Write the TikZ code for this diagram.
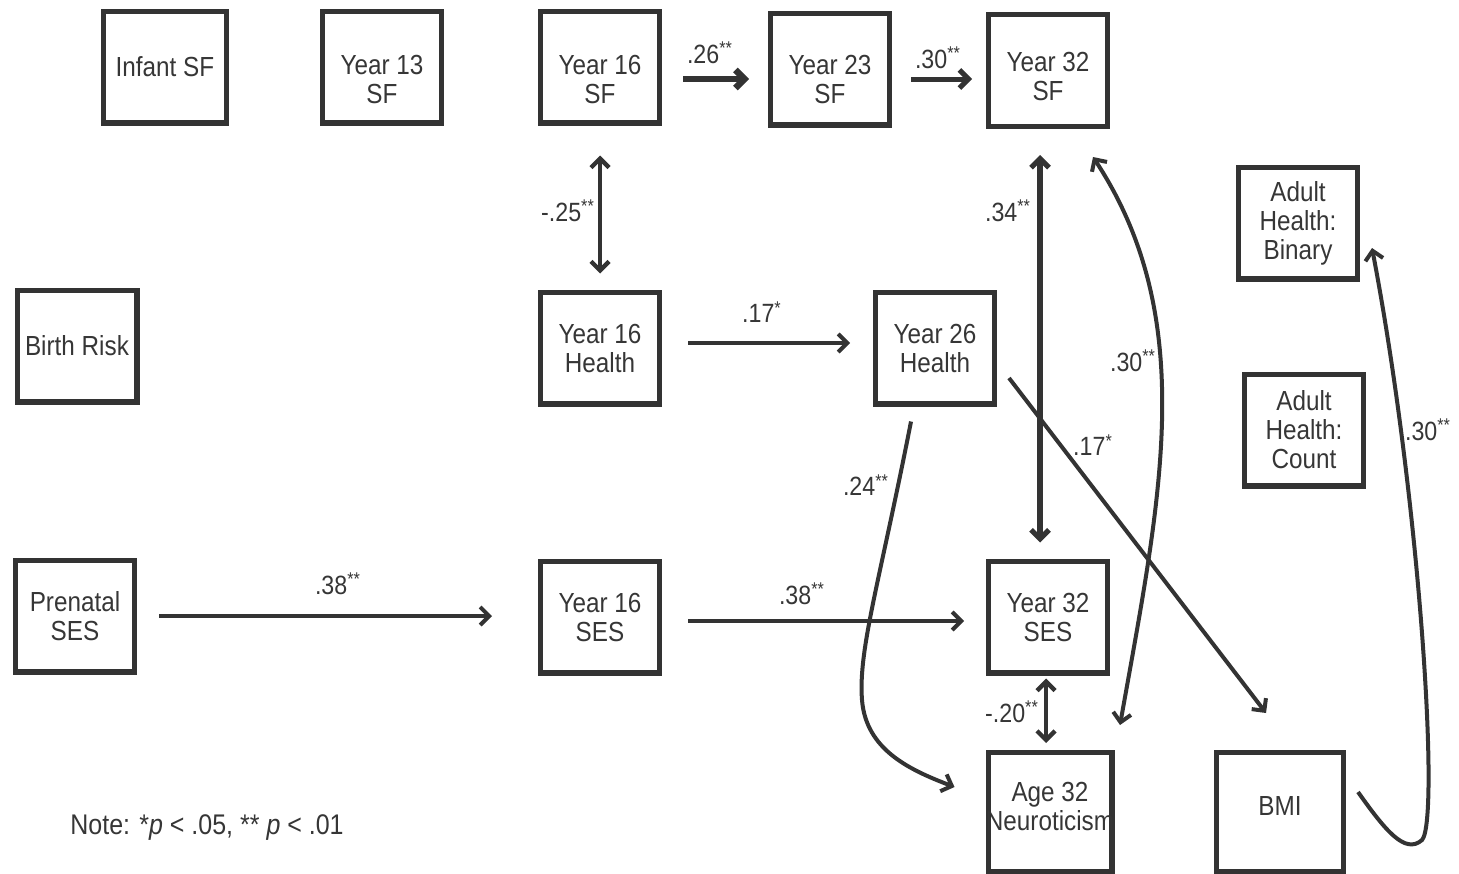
\documentclass[tikz,border=0pt]{standalone}
\usepackage{fontspec}
\newfontfamily\dfont[FakeStretch=0.88]{Liberation Sans}
\usetikzlibrary{arrows.meta,calc}
\definecolor{ink}{HTML}{333333}
\definecolor{txt}{HTML}{363636}
\begin{document}
\begin{tikzpicture}[x=0.5pt,y=-0.5pt,
  box/.style={draw=ink,line width=2.6pt,minimum width=59.4pt,minimum height=55.9pt,inner sep=0pt,align=center,text=txt,font={\dfont\fontsize{13.8}{14.5}\selectfont}},
  boxtxt/.style={inner sep=0pt,align=center,text=txt,font={\dfont\fontsize{13.8}{14.5}\selectfont}},
  lab/.style={text=txt,inner sep=0pt,font={\dfont\fontsize{13.2}{14}\selectfont}},
  tip/.tip={Straight Barb[length=4.5pt,width=9pt]},
  conn/.style={draw=ink,line width=2pt,-tip},
  both/.style={draw=ink,line width=2pt,tip-tip},
]
\useasboundingbox (0,0) rectangle (1459,873);

% nodes
\node[box,minimum width=61.4pt] (infant) at (165,67) {Infant SF};
\node[box,label={[boxtxt,yshift=-6pt]center:{Year 13\\SF}}] (y13sf) at (382,67) {};
\node[box,label={[boxtxt,yshift=-6pt]center:{Year 16\\SF}}] (y16sf) at (600,67) {};
\node[box,label={[boxtxt,yshift=-5pt]center:{Year 23\\SF}}] (y23sf) at (830,69) {};
\node[box,label={[boxtxt,yshift=-3pt]center:{Year 32\\SF}}] (y32sf) at (1048,70.5) {};
\node[box,minimum width=59.9pt] (birth) at (77,346) {Birth Risk};
\node[box] (y16h) at (600,348) {Year 16\\Health};
\node[box] (y26h) at (935,348) {Year 26\\Health};
\node[box] (bin) at (1298,223) {Adult\\Health:\\Binary};
\node[box] (cnt) at (1304,430) {Adult\\Health:\\Count};
\node[box] (pre) at (75,616) {Prenatal\\SES};
\node[box] (y16ses) at (600,617) {Year 16\\SES};
\node[box] (y32ses) at (1048,617) {Year 32\\SES};
\node[box,minimum width=61.9pt,minimum height=59.4pt,label={[boxtxt,yshift=3pt]center:{Age 32\\\makebox[0pt]{Neuroticism}}}] (neuro) at (1050,812) {};
\node[box,minimum width=63.4pt,minimum height=59.4pt,label={[boxtxt,yshift=3pt]center:{BMI}}] (bmi) at (1280,812) {};

% connectors
\draw[conn,line width=3.2pt,shorten <=10.5pt,shorten >=9.5pt] ([yshift=-6pt]y16sf.east) -- ([yshift=-6pt]y16sf.east -| y23sf.west);
\draw[conn,line width=2.5pt,shorten <=9.5pt,shorten >=7pt] ([yshift=-5pt]y23sf.east) -- ([yshift=-5pt]y23sf.east -| y32sf.west);
\draw[both,line width=2.2pt,shorten <=15pt,shorten >=8pt] (y16sf.south) -- (y16h.north);
\draw[conn,shorten <=13pt,shorten >=11.5pt] ([yshift=2.5pt]y16h.east) -- ([yshift=2.5pt]y16h.east -| y26h.west);
\draw[both,line width=2.6pt,shorten <=13pt,shorten >=8pt] ([xshift=-4pt]y32sf.south) -- ([xshift=-4pt]y32sf.south |- y32ses.north);
\draw[both,line width=2.2pt,shorten <=1.5pt,shorten >=3.5pt] ([xshift=-1pt]y32ses.south) -- ([xshift=-1pt]y32ses.south |- neuro.north);
\draw[conn,shorten <=11pt,shorten >=23pt] (pre.east) -- (pre.east -| y16ses.west);
\draw[conn,shorten <=13pt,shorten >=11pt] ([yshift=-2pt]y16ses.east) -- ([yshift=-2pt]y16ses.east -| y32ses.west);
\draw[conn] ($(y26h.east)+(12,30)$) -- ($(bmi.north)+(-14,-37)$);
\draw[both] ($(y32sf.south)+(45,28)$) .. controls (1200,320) and (1160,500) .. ($(neuro.north)+(70,-25)$);
\draw[conn] ($(y26h.south)+(-24,15)$) .. controls (880,580) and (858,650) .. (862,700) .. controls (866,750) and (910,770) .. ($(neuro.west)+(-31,-25)$);
\draw[conn] ($(bmi.east)+(12,-20)$) .. controls (1385,830) and (1405,855) .. (1422,840) .. controls (1440,820) and (1420,500) .. ($(bin.east)+(12,25)$);

% labels
\node[lab] at (710,53) {.26\textsuperscript{**}};
\node[lab] at (938,58) {.30\textsuperscript{**}};
\node[lab] at (568,211) {-.25\textsuperscript{**}};
\node[lab] at (762,312) {.17\textsuperscript{*}};
\node[lab] at (1008,211) {.34\textsuperscript{**}};
\node[lab] at (1133,361) {.30\textsuperscript{**}};
\node[lab] at (1093,445) {.17\textsuperscript{*}};
\node[lab] at (866,485) {.24\textsuperscript{**}};
\node[lab] at (338,584) {.38\textsuperscript{**}};
\node[lab] at (802,594) {.38\textsuperscript{**}};
\node[lab] at (1012,712) {-.20\textsuperscript{**}};
\node[lab] at (1428,430) {.30\textsuperscript{**}};
\node[lab,anchor=west,font={\dfont\fontsize{14.2}{16}\selectfont}] at (70,828) {Note: *\textit{p} < .05, ** \textit{p} < .01};
\end{tikzpicture}
\end{document}
